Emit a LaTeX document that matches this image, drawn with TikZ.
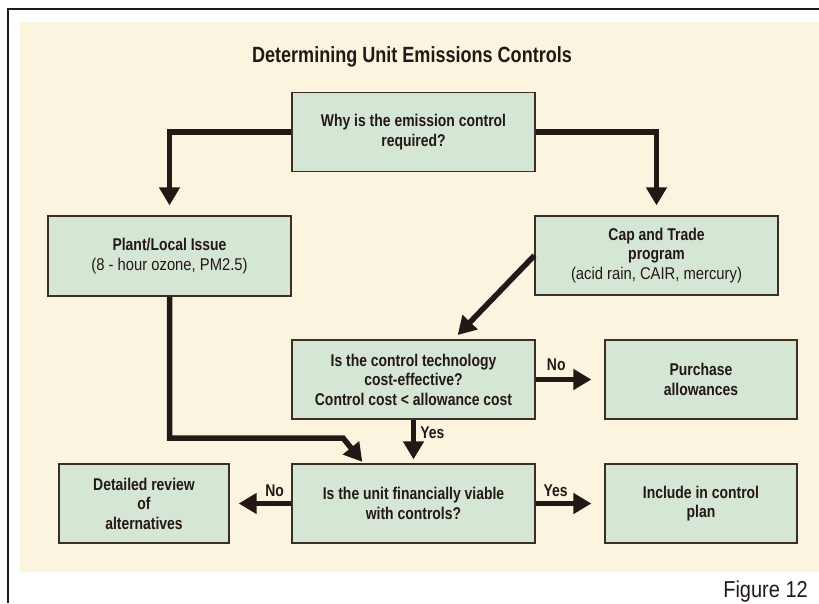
\documentclass[tikz,border=0pt]{standalone}
\usepackage{fontspec}
\setmainfont{Liberation Sans}[FakeStretch=0.87, BoldFeatures={FakeStretch=0.82}]
\usetikzlibrary{arrows.meta}

\definecolor{figcream}{HTML}{FBF4DF}
\definecolor{figgreenfill}{HTML}{D6E6D4}
\definecolor{figedge}{HTML}{3A2E28}
\definecolor{figink}{HTML}{231815}

\begin{document}
\begin{tikzpicture}[
  x=1pt, y=-1pt, font=\fontsize{17}{19.5}\selectfont, text=figink,
  box/.style={rectangle, draw=figedge, line width=1.3pt, fill=figgreenfill,
              minimum width=243pt, minimum height=79pt, inner sep=0pt,
              align=center},
  smallbox/.style={box, minimum width=192pt},
  flow/.style={draw=figink, line width=5.5pt,
               -{Triangle[length=18pt, width=20pt]}},
  lbl/.style={font=\fontsize{17}{19.5}\selectfont\bfseries, inner sep=2pt},
  hdr/.style={font=\fontsize{22}{24}\selectfont\bfseries, inner sep=0pt}]

  \useasboundingbox (0,0) rectangle (819,603);
  \fill[white] (0,0) rectangle (819,603);
  \fill[figcream] (20,22) rectangle (819,572);
  \draw[figink, line width=1.4pt] (819,9) -- (8,9) -- (8,603);

  \def\cx{413.5}  % centre column
  \def\lx{169.5}  % left column
  \def\rx{656.5}  % right column

  % ---- boxes -----------------------------------------------------------
  \node[hdr] (title) at (412,57) {Determining Unit Emissions Controls};

  \node[box] (why) at (\cx,132)
    {\textbf{Why is the emission control}\\\textbf{required?}};
  \node[box, minimum height=80pt] (plant) at (\lx,256)
    {\textbf{Plant/Local Issue}\\(8 - hour ozone, PM2.5)};
  \node[box] (cap) at (\rx,255.5)
    {\textbf{Cap and Trade}\\\textbf{program}\\(acid rain, CAIR, mercury)};
  \node[box] (cost) at (\cx,379.5)
    {\textbf{Is the control technology}\\\textbf{cost-effective?}\\
     \textbf{Control cost < allowance cost}};
  \node[smallbox] (buy) at (701,379.5)
    {\textbf{Purchase}\\\textbf{allowances}};
  \node[box] (unit) at (\cx,503.5)
    {\textbf{Is the unit financially viable}\\\textbf{with controls?}};
  \node[smallbox] (plan) at (701,503.5)
    {\textbf{Include in control}\\\textbf{plan}};
  \node[box, minimum width=170pt] (review) at (144,503.5)
    {\textbf{Detailed review}\\\textbf{of}\\\textbf{alternatives}};

  \node[anchor=east, inner sep=0pt, font=\fontsize{23}{24}\selectfont]
    (fig) at (808,592) {Figure 12};

  % ---- connectors --------------------------------------------------------
  \coordinate (elbow) at (343,438);

  \draw[flow, shorten >=10pt] (why.west) -| (plant.north);
  \draw[flow, shorten >=10pt] (why.east) -| (cap.north);
  \draw[flow, shorten >=6pt] (cap.west) -- ([xshift=40pt]cost.north);
  \draw[flow, shorten >=13pt] (cost.east) -- (buy.west)
    node[lbl, above=4pt, pos=0.3] {No};
  \draw[flow, shorten >=4pt] (cost.south) -- (unit.north)
    node[lbl, right=2pt, pos=0.29] {Yes};
  \draw[flow, shorten >=2pt] (plant.south) |- (elbow)
    -- ([xshift=-50pt]unit.north);
  \draw[flow, shorten >=13pt] (unit.east) -- (plan.west)
    node[lbl, above=2pt, pos=0.29] {Yes};
  \draw[flow, shorten >=9pt] (unit.west) -- (review.east)
    node[lbl, above=2pt, pos=0.27] {No};
\end{tikzpicture}
\end{document}
